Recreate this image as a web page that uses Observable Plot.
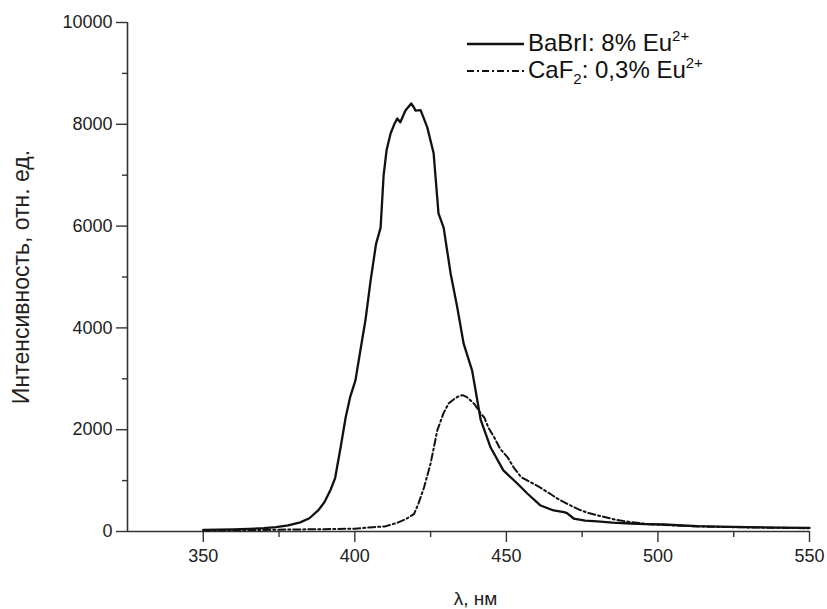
<!DOCTYPE html>
<html>
<head>
<meta charset="utf-8">
<script src="https://cdn.jsdelivr.net/npm/d3@7"></script>
<script src="https://cdn.jsdelivr.net/npm/@observablehq/plot@0.6"></script>
<style>
  html, body { margin: 0; padding: 0; background: #fff; }
  #wrap { position: relative; width: 827px; height: 609px; font-family: "Liberation Sans", Arial, sans-serif; }
  #legend { position: absolute; left: 0; top: 0; width: 827px; height: 100px; pointer-events: none; }
  .lg { position: absolute; left: 528px; font-size: 24px; color: #111; line-height: 1; white-space: nowrap; }
  .lg sup { font-size: 15px; vertical-align: 10px; line-height: 0; }
  .lg sub { font-size: 15px; vertical-align: -6px; line-height: 0; }
</style>
</head>
<body>
<div id="wrap">
  <div id="chart"></div>
  <svg id="legend" width="827" height="100"></svg>
  <div class="lg" id="lg1" style="top:31px">BaBrI: 8% Eu<sup>2+</sup></div>
  <div class="lg" id="lg2" style="top:58px">CaF<sub>2</sub>: 0,3% Eu<sup>2+</sup></div>
</div>
<script>
// Series 1: BaBrI: 8% Eu2+
const babriWl = [350,355,360,365,370,374,378,382,385,388,390,392,393.5,395.3,397,398.5,400.2,402,403.5,405.2,407,408.5,409.5,410.5,411.8,413,414,415,416.7,418.6,419.5,420,421.7,423.9,426,427.6,429.3,431.6,433.8,435.9,438.7,441.5,444.8,449,453.6,456.9,461.3,465.6,467.5,469,470,472.2,476,480,485,491,496,502,508,513,520,529.5,540,550];
const babriI  = [30,35,40,50,65,85,120,180,260,420,580,820,1050,1650,2250,2650,2970,3620,4150,4930,5650,5970,7000,7500,7820,8000,8115,8040,8270,8410,8330,8270,8280,7940,7430,6250,5970,5070,4400,3690,3160,2200,1650,1200,943,747,510,413,395,380,360,255,215,197,175,157,145,138,118,104,95,85,78,70];
// Series 2: CaF2: 0,3% Eu2+
const cafWl = [350,360,370,380,390,400,406,410,414,417,419.5,421,422.8,425,427.2,429.3,431,432.7,434,435.5,437,438.2,439.5,441.5,442.7,444,446,448,450.5,452.5,454.9,457,460.5,464.8,467,470.5,474,477.1,482,486.1,491,497.2,505,513.8,522,530.6,540,550];
const cafI  = [20,25,30,40,45,55,85,100,170,250,340,550,860,1336,1985,2330,2520,2600,2650,2680,2640,2574,2500,2320,2240,2050,1847,1620,1450,1250,1067,1000,888,727,640,530,430,362,290,230,185,143,120,98,88,79,72,65];

const xDomain = [325, 550];
const yDomain = [0, 10000];
const xMajor = [350, 400, 450, 500, 550];
const xMinor = [375, 425, 475, 525];
const yMajor = [0, 2000, 4000, 6000, 8000, 10000];
const yMinor = [1000, 3000, 5000, 7000, 9000];
const xTitle = "λ, нм";
const yTitle = "Интенсивность, отн. ед.";

const babri = babriWl.map((w, i) => ({w, v: babriI[i]}));
const caf = cafWl.map((w, i) => ({w, v: cafI[i]}));

const axisColor = "#333";
const chart = Plot.plot({
  width: 827,
  height: 609,
  marginLeft: 127,
  marginRight: 18,
  marginTop: 22,
  marginBottom: 78,
  style: {fontFamily: "'Liberation Sans', Arial, sans-serif", fontSize: "18px", color: "#222", background: "#fff"},
  x: {domain: xDomain},
  y: {domain: yDomain},
  marks: [
    Plot.axisY({ticks: yMajor, tickSize: 11, tickPadding: 4, tickFormat: d => String(d), label: null, stroke: axisColor, strokeWidth: 1.4, fontSize: 18}),
    Plot.axisY({ticks: yMinor, tickSize: 5, text: null, label: null, stroke: axisColor, strokeWidth: 1.4}),
    Plot.axisX({ticks: xMajor, tickSize: 11, tickPadding: 7, tickFormat: d => String(d), label: null, stroke: axisColor, strokeWidth: 1.4, fontSize: 18}),
    Plot.axisX({ticks: xMinor, tickSize: 6, text: null, label: null, stroke: axisColor, strokeWidth: 1.4}),
    Plot.ruleX([xDomain[0]], {y1: yDomain[0], y2: yDomain[1], stroke: axisColor, strokeWidth: 1.6}),
    Plot.ruleY([yDomain[0]], {x1: xDomain[0], x2: xDomain[1], stroke: axisColor, strokeWidth: 1.6}),
    Plot.line(caf, {x: "w", y: "v", stroke: "#111", strokeWidth: 2, strokeDasharray: "7,3,2,3"}),
    Plot.line(babri, {x: "w", y: "v", stroke: "#111", strokeWidth: 2.3}),
    Plot.text([yTitle], {frameAnchor: "left", rotate: -90, dx: -106, fontSize: 23, fill: "#222", textAnchor: "middle", lineAnchor: "middle"}),
    Plot.text([xTitle], {frameAnchor: "bottom", dx: 7, dy: 67, fontSize: 19, fill: "#222", textAnchor: "middle", lineAnchor: "middle"})
  ]
});
document.getElementById("chart").appendChild(chart);

// Legend samples (SVG overlay)
const lg = d3.select("#legend");
lg.append("line").attr("x1", 467).attr("x2", 524).attr("y1", 44).attr("y2", 44)
  .attr("stroke", "#111").attr("stroke-width", 2.3);
lg.append("line").attr("x1", 467).attr("x2", 524).attr("y1", 71).attr("y2", 71)
  .attr("stroke", "#111").attr("stroke-width", 2).attr("stroke-dasharray", "7,3,2,3");
</script>
</body>
</html>
